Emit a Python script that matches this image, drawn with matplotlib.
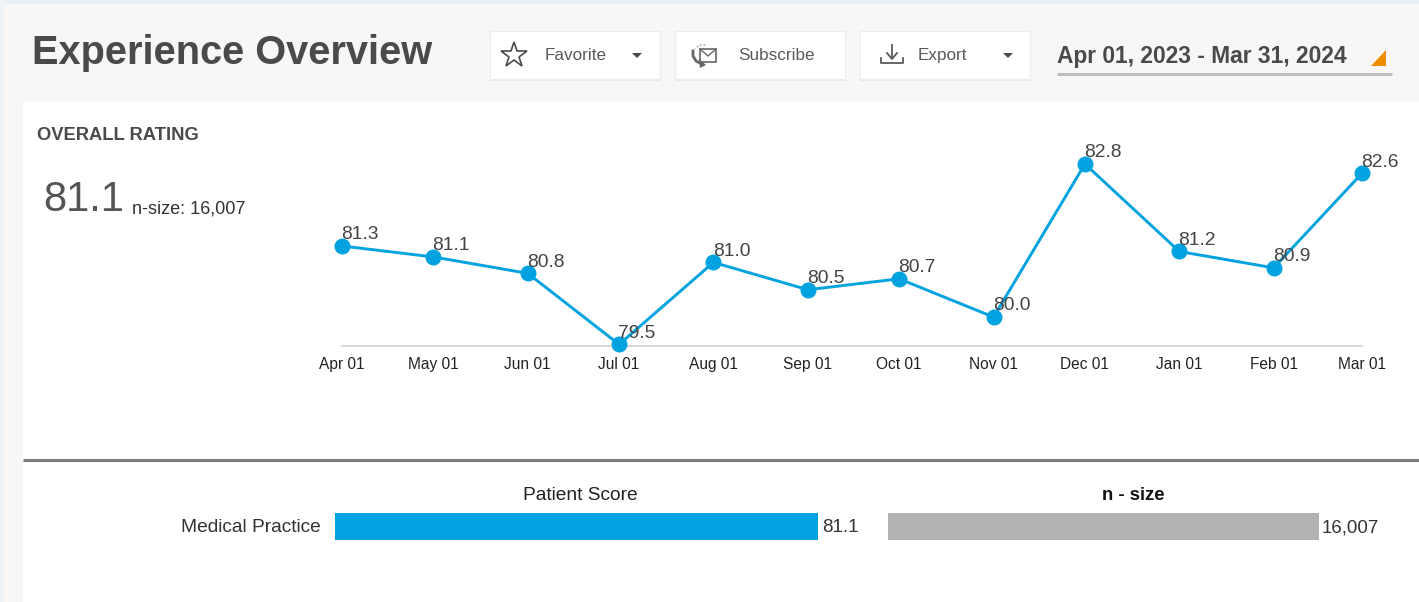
import pandas as pd
import matplotlib
matplotlib.use('Agg')
import matplotlib.pyplot as plt
import matplotlib.dates as mdates
from matplotlib.patches import Rectangle, Polygon

plt.rcParams['font.family'] = ['Liberation Sans', 'DejaVu Sans']

# Chart data
months = ['2023-04-01', '2023-05-01', '2023-06-01', '2023-07-01', '2023-08-01', '2023-09-01',
          '2023-10-01', '2023-11-01', '2023-12-01', '2024-01-01', '2024-02-01', '2024-03-01']
ratings = [81.3, 81.1, 80.8, 79.5, 81.0, 80.5, 80.7, 80.0, 82.8, 81.2, 80.9, 82.63]
bar_category = 'Medical Practice'
patient_score = 81.1
n_size = 16007

W, H = 1419, 602
BLUE = '#00a3e0'
GREY = '#b2b2b2'
DARK = '#4a4a4a'


def axes_px(fig, left, top, right, bottom):
    """Add an axes placed with pixel coordinates measured from the top left."""
    return fig.add_axes([left / W, 1 - bottom / H, (right - left) / W, (bottom - top) / H])


def draw_button(ui, x0, x1, label, label_x):
    ui.add_patch(Rectangle((x0 - 0.5, 31), x1 - x0 + 1.5, 49.5, fc='#ebe9e7', ec='none', zorder=2))
    ui.add_patch(Rectangle((x0, 31), x1 - x0, 48, fc='white', ec='#ececec', lw=0.8, zorder=3))
    ui.text(label_x, 55.5, label, fontsize=12.3, color='#5a5a5a', ha='left', va='center', zorder=4)


def draw_page(fig):
    ui = fig.add_axes([0, 0, 1, 1], zorder=0)
    ui.set_xlim(0, W)
    ui.set_ylim(H, 0)
    ui.axis('off')

    ui.add_patch(Rectangle((0, 0), W, H, fc='#f9f7f5', ec='none'))
    ui.add_patch(Rectangle((0, 0), W, 4, fc='#e8f0f5', ec='none'))
    ui.add_patch(Rectangle((0, 0), 4, H, fc='#eef2f5', ec='none'))
    ui.add_patch(Rectangle((23, 102), W - 23, H - 102, fc='white', ec='none'))
    ui.plot([23, W], [460, 460], color='#7b7e80', lw=2.2, solid_capstyle='butt')

    ui.text(32, 53, 'Experience Overview', fontsize=28.6, fontweight='bold', color=DARK,
            ha='left', va='center')

    draw_button(ui, 490, 660, 'Favorite', 545)
    draw_button(ui, 675, 845, 'Subscribe', 738)
    draw_button(ui, 860, 1030, 'Export', 918)

    # button icons
    ui.plot([514], [55], marker='*', ms=19, mfc='none', mec=DARK, mew=1.2, zorder=5)
    for tx in (637, 1008):
        ui.add_patch(Polygon([(tx - 5, 53), (tx + 5, 53), (tx, 58)], fc='#4a4a4a', ec='none', zorder=5))
    # subscribe icon: envelope with a circular arrow round it
    ui.add_patch(Rectangle((700, 49), 16, 13, fc='white', ec='#666666', lw=1.2, zorder=6))
    ui.plot([700, 708, 716], [49, 56, 49], color='#666666', lw=1, zorder=7)
    ui.plot([705, 699, 695], [45, 45, 49], color='#888888', lw=1, ls=':', zorder=5)
    ui.plot([693, 693, 696, 702], [51, 56, 61, 64], color='#666666', lw=2, zorder=5)
    ui.add_patch(Polygon([(699, 59), (706, 65), (700, 68)], fc='#666666', ec='none', zorder=7))
    # export icon
    ui.plot([892, 892], [45, 58], color='#5a5a5a', lw=1.3, zorder=5)
    ui.plot([887, 892, 897], [53, 59, 53], color='#5a5a5a', lw=1.3, zorder=5)
    ui.plot([881, 881, 903, 903], [58, 63, 63, 58], color='#5a5a5a', lw=1.3, zorder=5)

    # date range selector
    ui.text(1057, 57, 'Apr 01, 2023 - Mar 31, 2024', fontsize=16.4, fontweight='bold', color=DARK,
            ha='left', va='center')
    ui.plot([1057, 1392], [73.5, 73.5], color='#bdbdbd', lw=2.2, solid_capstyle='butt')
    ui.add_patch(Polygon([(1370.5, 66), (1385.5, 66), (1385.5, 50)], fc='#ef8c00', ec='none'))

    # overall rating block
    ui.text(37, 136, 'OVERALL RATING', fontsize=13.2, fontweight='bold', color=DARK, ha='left', va='center')
    ui.text(43, 200, f'{patient_score:.1f}', fontsize=30, color='#555555', ha='left', va='center')
    ui.text(132, 209, f'n-size: {n_size:,}', fontsize=13.1, color='#333333', ha='left', va='center')


def draw_trend(fig):
    dates = pd.to_datetime(months)
    ax = axes_px(fig, 342, 164, 1362, 345.5)
    ax.patch.set_alpha(0)
    ax.plot(dates, ratings, color=BLUE, lw=2.1, marker='o', ms=10.5, mec=BLUE, clip_on=False, zorder=3)
    ax.set_xlim(dates[0], dates[-1])
    ax.set_ylim(79.48, 82.8)
    for d, r in zip(dates, ratings):
        ax.annotate(f'{r:.1f}', (d, r), xytext=(-0.6, 2), textcoords='offset points', fontsize=13.9,
                    color='#444444', ha='left', va='bottom', annotation_clip=False, zorder=4)

    for side in ('top', 'left', 'right'):
        ax.spines[side].set_visible(False)
    ax.spines['bottom'].set_color('#d0d0d0')
    ax.spines['bottom'].set_linewidth(1.2)
    ax.set_yticks([])
    ax.set_xticks(dates)
    ax.xaxis.set_major_formatter(mdates.DateFormatter('%b %d'))
    ax.tick_params(axis='x', length=0, pad=8.5, labelsize=11.2, labelcolor='#222222')


def draw_bars(fig):
    ax1 = axes_px(fig, 335, 513, 818, 540)
    ax1.barh([bar_category], [patient_score], height=1, color=BLUE)
    ax1.set_xlim(0, patient_score)
    ax1.set_ylim(-0.5, 0.5)
    ax1.axis('off')
    ax1.annotate(f'{patient_score:.1f}', (patient_score, 0), xytext=(3, -1), textcoords='offset points',
                 fontsize=13.5, color='#333333', ha='left', va='center', annotation_clip=False)
    ax1.annotate(bar_category, (0, 0), xytext=(-10.5, -1), textcoords='offset points', fontsize=13.8,
                 color='#333333', ha='right', va='center', annotation_clip=False)
    ax1.text(0.508, 1.63, 'Patient Score', transform=ax1.transAxes, fontsize=13.8, color='#222222',
             ha='center', va='center')

    ax2 = axes_px(fig, 888, 513, 1319, 540)
    ax2.barh([bar_category], [n_size], height=1, color=GREY)
    ax2.set_xlim(0, n_size)
    ax2.set_ylim(-0.5, 0.5)
    ax2.axis('off')
    ax2.annotate(f'{n_size:,}', (n_size, 0), xytext=(2, -1), textcoords='offset points', fontsize=13.4,
                 color='#333333', ha='left', va='center', annotation_clip=False)
    ax2.text(0.57, 1.63, 'n - size', transform=ax2.transAxes, fontsize=13.3, fontweight='bold',
             color='#111111', ha='center', va='center')


def main():
    fig = plt.figure(figsize=(W / 100, H / 100), dpi=100)
    draw_page(fig)
    draw_trend(fig)
    draw_bars(fig)
    fig.savefig('out.png', dpi=100)


if __name__ == '__main__':
    main()
